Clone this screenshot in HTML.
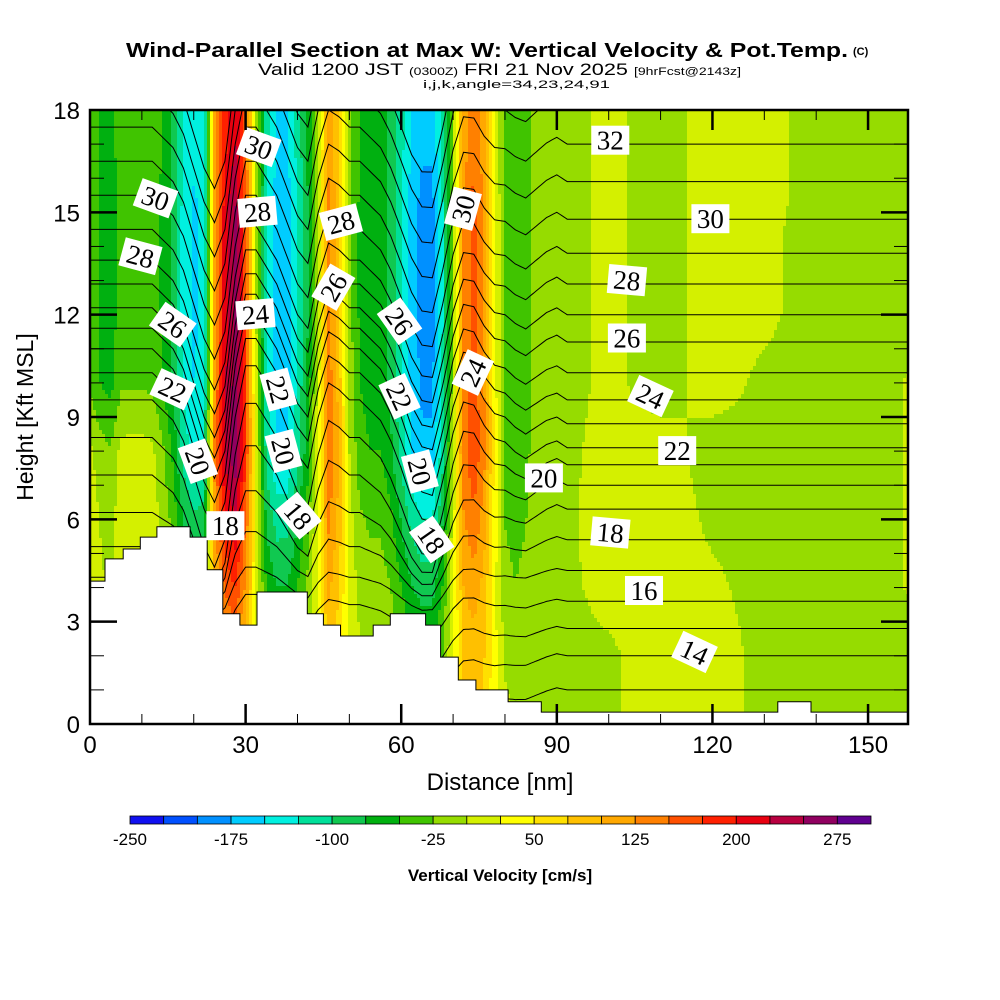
<!DOCTYPE html>
<html><head><meta charset="utf-8"><style>
html,body{margin:0;padding:0;background:#fff}
svg{display:block}
text{font-family:"Liberation Sans",sans-serif}
.lbl{font-family:"Liberation Serif",serif;font-size:27px}
</style></head><body>
<svg id="chart" width="1000" height="1000" viewBox="0 0 1000 1000" xmlns="http://www.w3.org/2000/svg">
<defs><clipPath id="pc"><rect x="90" y="110" width="818" height="614"/></clipPath></defs>
<text x="126" y="57" font-size="20" font-weight="bold" textLength="722" lengthAdjust="spacingAndGlyphs">Wind-Parallel Section at Max W: Vertical Velocity &amp; Pot.Temp.</text>
<text x="853" y="55" font-size="11" font-weight="bold">(C)</text>
<text x="258" y="75" font-size="17" textLength="483" lengthAdjust="spacingAndGlyphs">Valid 1200 JST <tspan font-size="11">(0300Z)</tspan> FRI 21 Nov 2025 <tspan font-size="11">[9hrFcst@2143z]</tspan></text>
<text x="423" y="88" font-size="11" textLength="187" lengthAdjust="spacingAndGlyphs">i,j,k,angle=34,23,24,91</text>
<g id="field" clip-path="url(#pc)"></g>
<g id="contours" clip-path="url(#pc)"></g>
<g id="terrain"></g>
<g id="labels"></g>
<g id="axes"></g>
<text transform="translate(33,417) rotate(-90)" text-anchor="middle" font-size="23">Height [Kft MSL]</text>
<text x="500" y="790" text-anchor="middle" font-size="24">Distance [nm]</text>
<g id="cbar"></g>
<text x="500" y="881" text-anchor="middle" font-size="17" font-weight="bold">Vertical Velocity [cm/s]</text>
</svg>
<script>
const NS='http://www.w3.org/2000/svg';
// ---- data ----
const colors=['#1010f0','#0050ff','#0090ff','#00ccff','#00f0e0','#00e09a','#10c850','#00b010','#40c400','#96dc00','#d4f000','#ffff00','#ffe000','#ffc000','#ffa800','#ff8000','#ff5000','#ff2000','#e80010','#b80040','#900060','#600090'];
const cbTicks=[-250,-175,-100,-25,50,125,200,275];
// updraft/downdraft band profile, every 2 nm starting at 0
const bandProfile=[0,-20,-30,0,0,0,0,-20,-50,-100,-120,-110,150,250,290,200,40,-90,-130,-130,-90,-40,40,170,120,20,-20,-30,-30,-50,-90,-130,-150,-150,-90,20,160,190,150,60,-20,-30,-20,0,0,0,0,0,0,0,0,0,0,0,0,0,0,0,0,0,0,0,0,0,0,0,0,0,0,0,0,0,0,0,0,0,0,0,0,0];
// band strength vs height, every 1 kft
const bandHeightFactor=[0.35,0.4,0.45,0.5,0.6,0.7,0.8,0.9,1,1,1,1,1,1,1,1,0.95,0.9,0.9];
// background W, rows every 2 kft (0..18), columns every 10 nm (0..160)
const bgW=[
[15,15,15,5,10,10,10,15,15,-10,-5,15,15,-10,-10,-10,-10],
[15,15,15,5,10,10,10,15,5,-10,-5,15,15,-10,-10,-10,-10],
[15,15,10,0,5,5,5,5,-5,-10,10,15,5,-10,-10,-10,5],
[15,15,0,-10,-5,-5,-5,-5,-10,-10,15,15,-5,-10,-10,-10,5],
[5,10,-15,-20,-20,-20,-20,-20,-15,-10,10,10,-10,-5,-10,-10,5],
[-30,-30,-30,-30,-30,-30,-30,-30,-20,-10,5,-10,10,-5,-10,-10,5],
[-35,-35,-35,-35,-35,-35,-35,-35,-20,-10,5,-10,10,5,-10,-10,-10],
[-35,-35,-35,-35,-35,-35,-35,-35,-20,-10,5,-10,10,5,-10,-10,-10],
[-35,-35,-35,-35,-35,-35,-35,-35,-20,-10,5,-10,10,10,-10,-10,-10],
[-35,-35,-35,-35,-35,-35,-35,-35,-20,-10,5,-10,10,10,-10,-10,-10]];
// terrain steps: start nm and height kft
const terrX=[0,2.9,6.4,9.7,12.9,19.3,22.6,25.6,28.9,32.2,41.9,45,48.3,54.6,57.9,64.7,67.6,71,74.4,80.6,87,132.6,139];
const terrH=[4.19,4.84,5.13,5.48,5.78,5.48,4.52,3.23,2.9,3.87,3.23,2.9,2.58,2.9,3.23,2.9,1.96,1.29,1.0,0.65,0.35,0.65,0.35];
// theta contours
const thetaLevels=[13,14,15,16,17,18,19,20,21,22,23,24,25,26,27,28,29,30,31,32,33,34];
const thetaHeightLeft=[0.5,1.5,2.5,3.5,4.3,5.2,6.2,7.3,8.4,9.5,10.3,11.0,11.6,12.2,12.9,13.6,14.5,15.5,16.5,17.5,18.5,19.5];
const thetaHeightRight=[1.0,2.0,2.8,3.6,4.5,5.4,6.3,7.0,7.6,8.1,8.8,9.5,10.3,11.2,12.0,12.9,13.8,14.8,15.9,17.0,18.2,19.4];
// displacement of isentropes, every 2 nm from 0
const thetaDisp=[0,0,0,0,0,0,0,-0.3,-0.6,-1.2,-2.2,-3.2,-3.8,-3,-0.5,1,1,0.5,0,-0.8,-1.6,-2,-0.5,0.5,0.3,0,0,-0.3,-0.6,-1.2,-2,-2.8,-3.3,-3.3,-2,-0.5,0.5,0.5,0,-0.3,-0.3,-0.5,-0.6,-0.3,0,0.2,0,0,0];
// contour labels
const labVal=[30,30,28,26,22,20,18,28,24,22,20,18,28,26,26,22,20,18,30,24,20,32,30,28,26,24,22,18,16,14];
const labX=[32.5,12.6,9.7,15.9,15.9,20.7,26.1,32.3,31.9,36.2,37.2,40.1,48.4,47,59.6,59.6,63.5,65.8,72,73.9,87.5,100.3,119.6,103.5,103.5,108,113.2,100.3,106.8,116.5];
const labH=[16.9,15.4,13.7,11.7,9.8,7.7,5.8,15.0,12.0,9.8,8.0,6.1,14.7,12.8,11.8,9.6,7.4,5.4,15.1,10.3,7.2,17.1,14.8,13.0,11.3,9.6,8.0,5.6,3.9,2.1];
const labRot=[20,20,15,35,25,70,0,-5,-5,75,75,50,-15,-60,55,65,75,55,-75,-65,0,0,0,5,0,25,0,5,0,25];
const xTicks=[0,30,60,90,120,150];
const yTicks=[0,3,6,9,12,15,18];
// ---- scales ----
const X0=90,X1=908,Y0=724,Y1=110,XMAX=157.7,HMAX=18;
const X=n=>X0+n*(X1-X0)/XMAX, Y=h=>Y0-h*(Y0-Y1)/HMAX;
const Xi=px=>(px-X0)*XMAX/(X1-X0), Yi=py=>(Y0-py)*HMAX/(Y0-Y1);
function lin(a,step,x){let f=x/step;let i=Math.floor(f);if(i<0)return a[0];if(i>=a.length-1)return a[a.length-1];let t=f-i;return a[i]*(1-t)+a[i+1]*t;}
function bg(x,h){let fr=Math.min(Math.max(h/2,0),bgW.length-1);let r=Math.floor(fr);let r2=Math.min(r+1,bgW.length-1);let t=fr-r;return lin(bgW[r],10,x)*(1-t)+lin(bgW[r2],10,x)*t;}
function W(x,h){return bg(x,h)+lin(bandProfile,2,x)*lin(bandHeightFactor,1,h);}
function cidx(v){let i=Math.floor((v+250)/25);return Math.max(0,Math.min(colors.length-1,i));}
// ---- field ----
const field=document.getElementById('field');
const cw=3,ch=4;
for(let py=Y1;py<Y0;py+=ch){
  const h=Yi(py+ch/2);let runStart=X0,runC=-1;
  for(let px=X0;px<X1+cw;px+=cw){
    const last=px>=X1;
    const c=last?-2:cidx(W(Xi(px+cw/2),h));
    if(c!==runC){
      if(runC>=0){const r=document.createElementNS(NS,'rect');
        
        
        const xe=last?X1+2:px;
        r.setAttribute('x',runStart);r.setAttribute('y',py);r.setAttribute('width',xe-runStart+0.6);r.setAttribute('height',ch+0.6);r.setAttribute('fill',colors[runC]);field.appendChild(r);}
      runStart=px;runC=c;}
  }
}
// ---- contours ----
const cg=document.getElementById('contours');
thetaLevels.forEach((lv,k)=>{
  let pts=[];
  for(let x=0;x<=XMAX+0.5;x+=0.5){
    let w=Math.min(Math.max((x-60)/30,0),1);
    let base=thetaHeightLeft[k]*(1-w)+thetaHeightRight[k]*w;
    let d=lin(thetaDisp,2,x);
    let sc=Math.min(1,Math.max(0.3,(base-3)/5));
    pts.push(X(x).toFixed(1)+','+Y(base+d*sc).toFixed(1));
  }
  const p=document.createElementNS(NS,'polyline');
  
  
  p.setAttribute('points',pts.join(' '));p.setAttribute('fill','none');p.setAttribute('stroke','#000');p.setAttribute('stroke-width','1');
  cg.appendChild(p);
});
// ---- terrain ----
(function(){let d='M'+X(0)+','+Y(0);
 for(let i=0;i<terrX.length;i++){const xe=i<terrX.length-1?terrX[i+1]:XMAX;d+=' L'+X(terrX[i]).toFixed(1)+','+Y(terrH[i]).toFixed(1)+' L'+X(xe).toFixed(1)+','+Y(terrH[i]).toFixed(1);}
 d+=' L'+X(XMAX)+','+Y(0)+' Z';
 const p=document.createElementNS(NS,'path');
 
 
 p.setAttribute('d',d);p.setAttribute('fill','#fff');p.setAttribute('stroke','#000');p.setAttribute('stroke-width','1');
 document.getElementById('terrain').appendChild(p);})();
// ---- labels ----
const lg=document.getElementById('labels');
labVal.forEach((v,i)=>{
  const g=document.createElementNS(NS,'g');
  
  
  g.setAttribute('transform','translate('+X(labX[i]).toFixed(1)+','+Y(labH[i]).toFixed(1)+') rotate('+labRot[i]+')');
  const r=document.createElementNS(NS,'rect');
  r.setAttribute('x',-19);r.setAttribute('y',-15);r.setAttribute('width',38);r.setAttribute('height',29);r.setAttribute('fill','#fff');
  const t=document.createElementNS(NS,'text');
  t.setAttribute('class','lbl');t.setAttribute('text-anchor','middle');t.setAttribute('y',9);t.textContent=v;
  g.appendChild(r);g.appendChild(t);lg.appendChild(g);
});
// ---- axes ----
const ax=document.getElementById('axes');
function line(x1,y1,x2,y2,w,name){const l=document.createElementNS(NS,'line');
  
  
  l.setAttribute('x1',x1);l.setAttribute('y1',y1);l.setAttribute('x2',x2);l.setAttribute('y2',y2);l.setAttribute('stroke','#000');l.setAttribute('stroke-width',w);ax.appendChild(l);}
const fr=document.createElementNS(NS,'rect');


fr.setAttribute('x',X0);fr.setAttribute('y',Y1);fr.setAttribute('width',X1-X0);fr.setAttribute('height',Y0-Y1);fr.setAttribute('fill','none');fr.setAttribute('stroke','#000');fr.setAttribute('stroke-width','2.5');ax.appendChild(fr);
for(let n=10;n<XMAX;n+=10){const maj=n%30===0;const L=maj?20:10;const w=maj?2.5:1;
  line(X(n),Y0,X(n),Y0-L,w,'x-tick');line(X(n),Y1,X(n),Y1+L,w,'x-tick-top');}
for(let h=1;h<HMAX;h++){const maj=h%3===0;const L=maj?27:14;const w=maj?2.5:1;
  line(X0,Y(h),X0+L,Y(h),w,'y-tick');line(X1,Y(h),X1-L,Y(h),w,'y-tick-right');}
xTicks.forEach(v=>{const t=document.createElementNS(NS,'text');
  
  
  t.setAttribute('x',X(v));t.setAttribute('y',753);t.setAttribute('text-anchor','middle');t.setAttribute('font-size','24');t.textContent=v;ax.appendChild(t);});
yTicks.forEach(v=>{const t=document.createElementNS(NS,'text');
  
  
  t.setAttribute('x',80);t.setAttribute('y',Y(v)+9);t.setAttribute('text-anchor','end');t.setAttribute('font-size','24');t.textContent=v;ax.appendChild(t);});
// ---- colorbar ----
const cb=document.getElementById('cbar');const CB0=130,CB1=871,sw=(CB1-CB0)/colors.length;
colors.forEach((c,i)=>{const r=document.createElementNS(NS,'rect');
  
  
  r.setAttribute('x',CB0+i*sw);r.setAttribute('y',816);r.setAttribute('width',sw);r.setAttribute('height',8);r.setAttribute('fill',c);r.setAttribute('stroke','#000');r.setAttribute('stroke-width','0.8');cb.appendChild(r);});
cbTicks.forEach(v=>{const t=document.createElementNS(NS,'text');
  
  
  t.setAttribute('x',CB0+(v+250)/25*sw);t.setAttribute('y',845);t.setAttribute('text-anchor','middle');t.setAttribute('font-size','17');t.textContent=v;cb.appendChild(t);});
</script>
</body></html>
